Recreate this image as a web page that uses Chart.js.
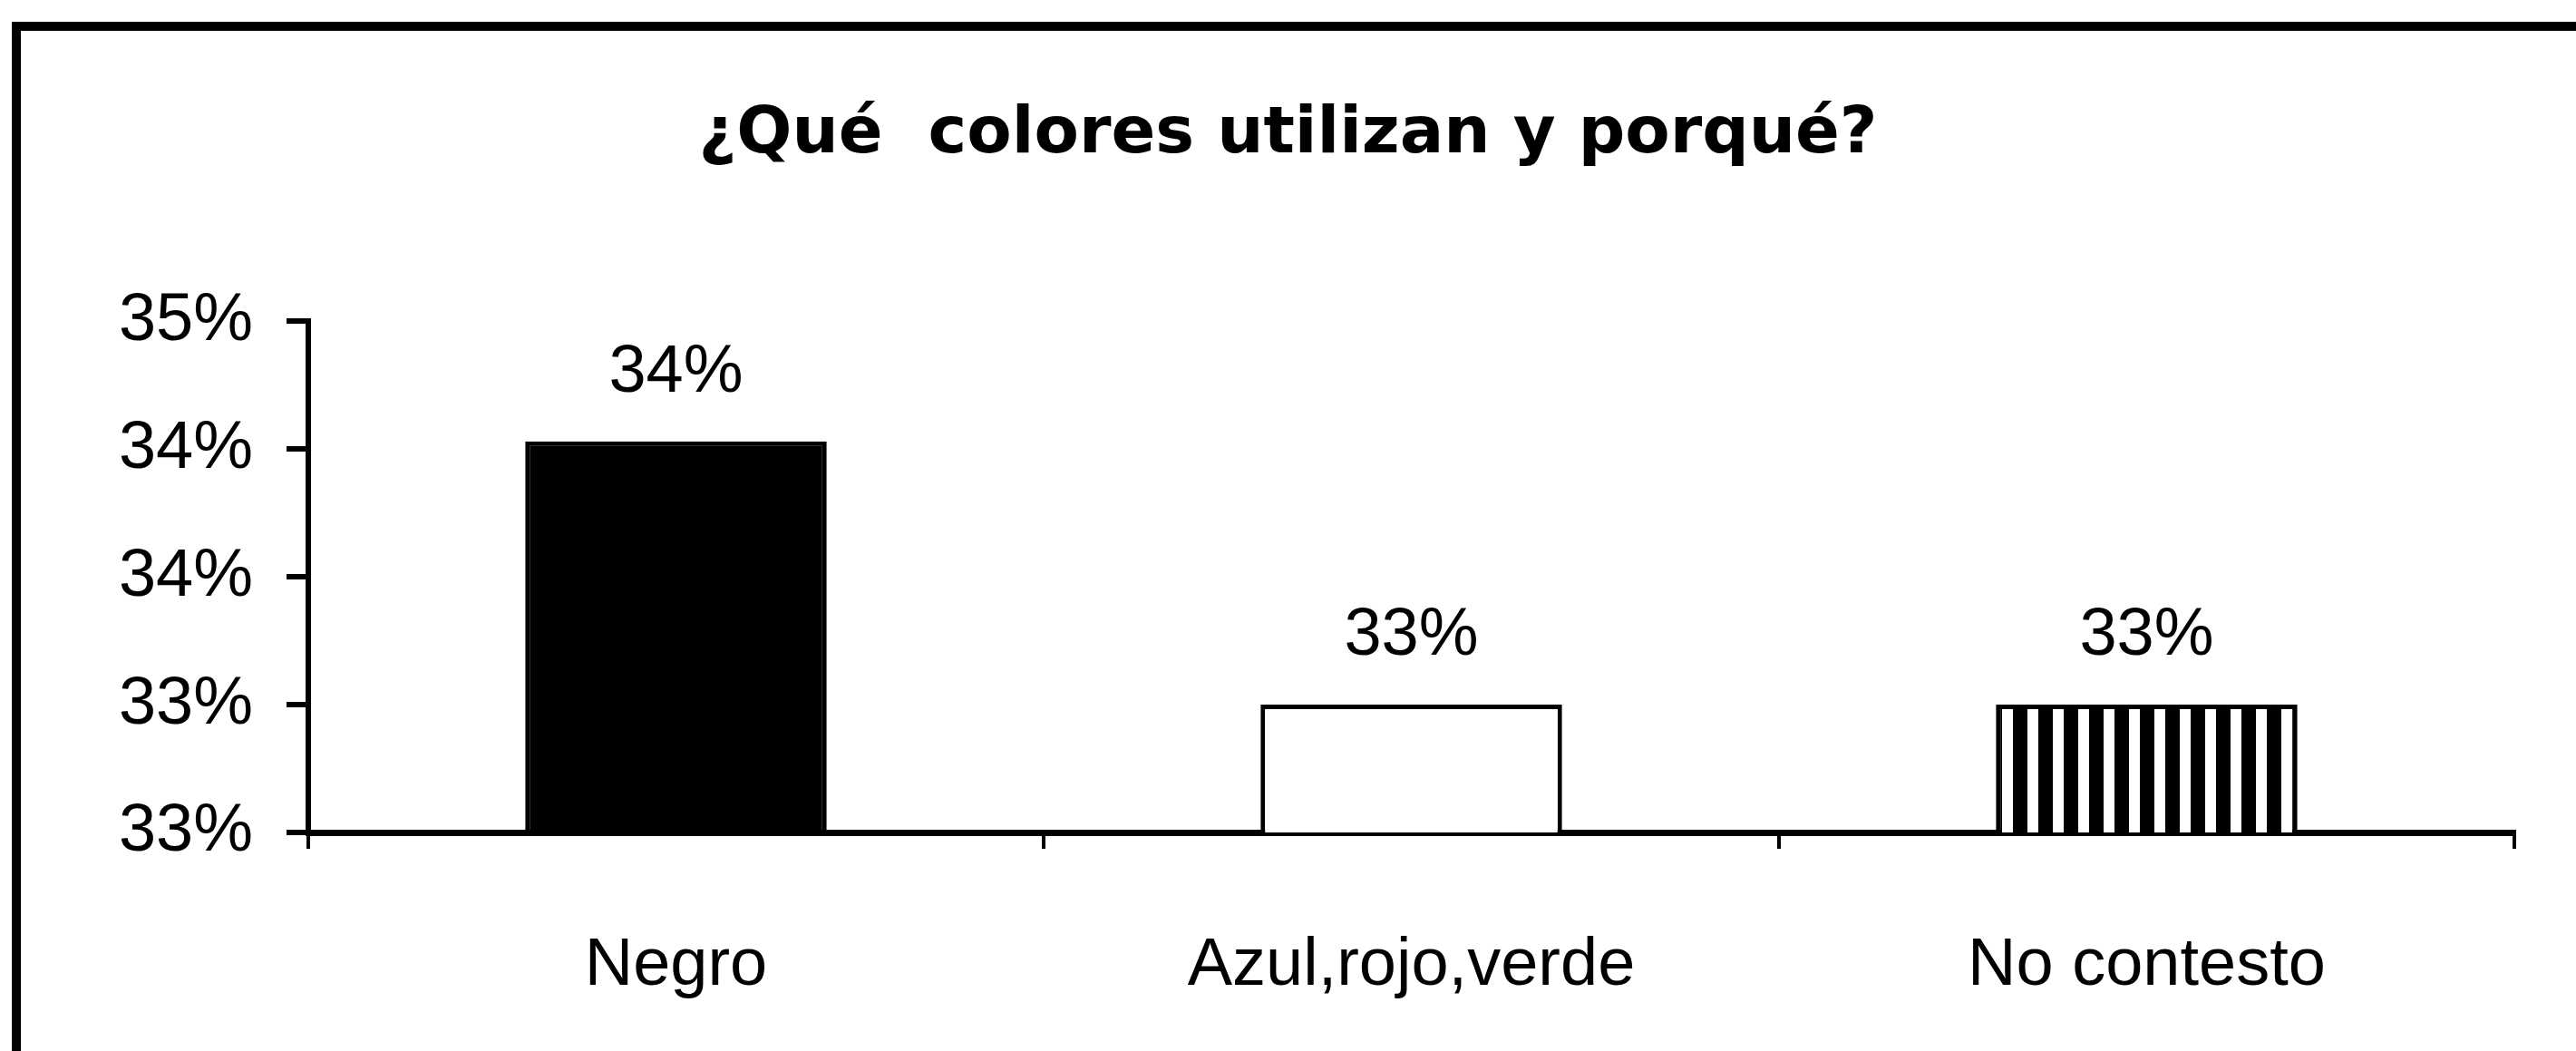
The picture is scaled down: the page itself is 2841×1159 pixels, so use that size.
<!DOCTYPE html>
<html lang="es">
<head>
<meta charset="utf-8">
<title>¿Qué colores utilizan y porqué?</title>
<script src="https://cdn.jsdelivr.net/npm/chart.js@4"></script>
<style>
  html, body { margin: 0; padding: 0; background: #fff; overflow: hidden; }
  canvas { display: block; }
</style>
</head>
<body>
<canvas id="chart" width="2841" height="1159"></canvas>
<script>
(function () {
  'use strict';

  // data
  const categories = ['Negro', 'Azul,rojo,verde', 'No contesto'];
  const values = [34.53, 33.5, 33.5];
  const valueLabels = ['34%', '33%', '33%'];
  const yTickLabels = ['33%', '33%', '34%', '34%', '35%'];

  const ink = '#000';
  const tickFont = { family: "'Liberation Sans', Arial, sans-serif", size: 74 };

  // vertical stripes for the third bar
  function stripes() {
    const c = document.createElement('canvas');
    c.width = 28; c.height = 4;
    const g = c.getContext('2d');
    g.fillStyle = '#fff';
    g.fillRect(0, 0, 28, 4);
    g.fillStyle = ink;
    g.fillRect(8, 0, 16, 4);
    return g.createPattern(c, 'repeat');
  }

  // ── frame: only the top and left edges show in the picture ─────
  const frame = {
    id: 'frame',
    beforeDraw(chart) {
      const ctx = chart.ctx;
      ctx.save();
      ctx.fillStyle = '#fff';
      ctx.fillRect(0, 0, chart.width, chart.height);
      ctx.strokeStyle = ink;
      ctx.lineWidth = 10;
      ctx.beginPath();
      ctx.moveTo(18, chart.height);
      ctx.lineTo(18, 29);
      ctx.lineTo(chart.width, 29);
      ctx.stroke();
      ctx.restore();
    }
  };

  // ── value labels above the bars ────────────────────────────────
  const barLabels = {
    id: 'barLabels',
    afterDatasetsDraw(chart) {
      const ctx = chart.ctx;
      const meta = chart.getDatasetMeta(0);
      ctx.save();
      ctx.fillStyle = ink;
      ctx.font = tickFont.size + 'px ' + tickFont.family;
      ctx.textAlign = 'center';
      ctx.textBaseline = 'alphabetic';
      meta.data.forEach((bar, i) => {
        ctx.fillText(valueLabels[i], bar.x, bar.y - 55);
      });
      ctx.restore();
    }
  };

  new Chart(document.getElementById('chart'), {
    type: 'bar',
    data: {
      labels: categories,
      datasets: [{
        data: values,
        backgroundColor: [ink, '#fff', stripes()],
        borderColor: ink,
        borderWidth: 5,
        borderSkipped: false,
        barPercentage: 0.41,
        categoryPercentage: 1
      }]
    },
    options: {
      responsive: false,
      animation: false,
      events: [],
      layout: { padding: { top: 0, right: 68, bottom: 0, left: 68 } },
      plugins: {
        legend: { display: false },
        tooltip: { enabled: false },
        title: {
          display: true,
          text: '¿Qué  colores utilizan y porqué?',
          color: ink,
          font: { family: "'DejaVu Sans', sans-serif", size: 72, weight: 'bold' },
          padding: { top: 106, bottom: 162 }
        }
      },
      scales: {
        x: {
          afterFit(scale) { scale.height = 241; },
          grid: { drawOnChartArea: false, drawTicks: true, tickLength: 18, lineWidth: 4, color: ink, offset: true },
          border: { display: true, color: ink, width: 7 },
          ticks: { color: ink, font: tickFont, padding: 85, maxRotation: 0 }
        },
        y: {
          min: 33,
          max: 35,
          afterFit(scale) { scale.width = 272; },
          grid: { drawOnChartArea: false, drawTicks: true, tickLength: 24, lineWidth: 6, color: ink },
          border: { display: true, color: ink, width: 6 },
          ticks: {
            stepSize: 0.5,
            color: ink,
            font: tickFont,
            padding: 37,
            callback: (v, i) => yTickLabels[i]
          }
        }
      }
    },
    plugins: [frame, barLabels]
  });
}());
</script>
</body>
</html>
